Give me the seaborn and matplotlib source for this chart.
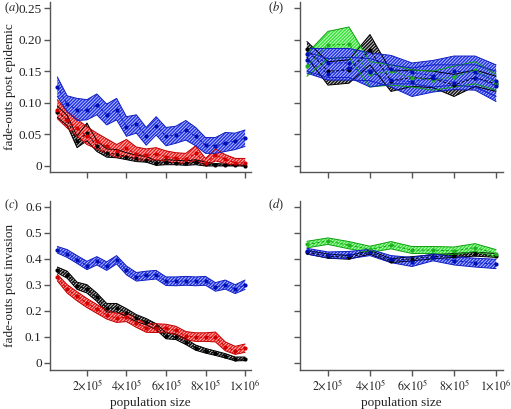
import numpy as np
import pandas as pd
import matplotlib
matplotlib.use("Agg")
import matplotlib.pyplot as plt
import seaborn as sns

# ---------------- data ----------------
pop_ac = [50000, 100000, 150000, 200000, 250000, 300000, 350000, 400000, 450000, 500000,
          550000, 600000, 650000, 700000, 750000, 800000, 850000, 900000, 950000, 1000000]
pop_bd = [100000, 200000, 300000, 400000, 500000, 600000, 700000, 800000, 900000, 1000000]

# panel a
a_blue_mean = [0.125, 0.098, 0.089, 0.088, 0.097, 0.081, 0.089, 0.062, 0.066, 0.048, 0.064, 0.047, 0.049, 0.057, 0.047, 0.033, 0.032, 0.036, 0.040, 0.044]
a_blue_hi = [0.141, 0.111, 0.107, 0.105, 0.114, 0.098, 0.107, 0.078, 0.081, 0.061, 0.078, 0.061, 0.063, 0.072, 0.061, 0.045, 0.045, 0.053, 0.052, 0.057]
a_blue_lo = [0.110, 0.086, 0.072, 0.073, 0.081, 0.065, 0.073, 0.047, 0.052, 0.033, 0.049, 0.032, 0.036, 0.041, 0.032, 0.020, 0.020, 0.023, 0.026, 0.031]
a_red_mean = [0.089, 0.072, 0.060, 0.047, 0.039, 0.031, 0.023, 0.028, 0.019, 0.017, 0.019, 0.015, 0.012, 0.011, 0.020, 0.005, 0.017, 0.011, 0.005, 0.005]
a_red_hi = [0.105, 0.086, 0.074, 0.062, 0.052, 0.043, 0.034, 0.042, 0.030, 0.027, 0.029, 0.024, 0.021, 0.020, 0.032, 0.012, 0.027, 0.018, 0.012, 0.012]
a_red_lo = [0.075, 0.060, 0.047, 0.034, 0.027, 0.020, 0.014, 0.016, 0.010, 0.009, 0.010, 0.007, 0.005, 0.004, 0.009, 0.001, 0.008, 0.004, 0.001, 0.001]
a_black_mean = [0.086, 0.073, 0.039, 0.052, 0.031, 0.020, 0.019, 0.015, 0.012, 0.010, 0.004, 0.006, 0.005, 0.004, 0.006, 0.003, 0.002, 0.001, 0.001, 0.000]
a_black_hi = [0.095, 0.080, 0.047, 0.068, 0.040, 0.027, 0.026, 0.021, 0.017, 0.015, 0.008, 0.010, 0.009, 0.008, 0.010, 0.006, 0.004, 0.003, 0.002, 0.001]
a_black_lo = [0.077, 0.064, 0.029, 0.040, 0.023, 0.014, 0.013, 0.010, 0.007, 0.006, 0.001, 0.002, 0.002, 0.001, 0.002, 0.000, 0.000, 0.000, 0.000, 0.000]

# panel b
b_black_mean = [0.185, 0.150, 0.152, 0.183, 0.135, 0.140, 0.138, 0.128, 0.140, 0.130]
b_black_hi = [0.197, 0.165, 0.168, 0.208, 0.150, 0.152, 0.150, 0.145, 0.152, 0.142]
b_black_lo = [0.172, 0.128, 0.131, 0.160, 0.118, 0.126, 0.124, 0.110, 0.126, 0.118]
b_green_mean = [0.158, 0.191, 0.193, 0.145, 0.150, 0.140, 0.136, 0.141, 0.152, 0.132]
b_green_hi = [0.178, 0.213, 0.220, 0.165, 0.160, 0.152, 0.150, 0.158, 0.165, 0.145]
b_green_lo = [0.142, 0.170, 0.172, 0.125, 0.128, 0.125, 0.120, 0.125, 0.130, 0.120]
b_blue1_mean = [0.177, 0.163, 0.163, 0.150, 0.154, 0.148, 0.143, 0.150, 0.148, 0.135]
b_blue1_hi = [0.186, 0.186, 0.186, 0.179, 0.175, 0.163, 0.167, 0.174, 0.174, 0.160]
b_blue1_lo = [0.150, 0.140, 0.140, 0.125, 0.130, 0.130, 0.125, 0.128, 0.125, 0.110]
b_blue2_mean = [0.168, 0.146, 0.155, 0.148, 0.136, 0.133, 0.140, 0.132, 0.140, 0.127]
b_blue2_hi = [0.180, 0.170, 0.172, 0.170, 0.160, 0.155, 0.160, 0.160, 0.160, 0.150]
b_blue2_lo = [0.147, 0.136, 0.136, 0.135, 0.125, 0.110, 0.117, 0.121, 0.120, 0.102]

# panel c
c_blue_mean = [0.435, 0.420, 0.397, 0.373, 0.393, 0.371, 0.397, 0.355, 0.330, 0.336, 0.339, 0.313, 0.313, 0.315, 0.313, 0.315, 0.291, 0.300, 0.283, 0.300]
c_blue_hi = [0.447, 0.435, 0.412, 0.390, 0.408, 0.388, 0.412, 0.372, 0.347, 0.352, 0.355, 0.330, 0.330, 0.332, 0.330, 0.332, 0.308, 0.318, 0.300, 0.318]
c_blue_lo = [0.422, 0.405, 0.382, 0.358, 0.376, 0.355, 0.380, 0.338, 0.314, 0.318, 0.322, 0.297, 0.296, 0.298, 0.296, 0.298, 0.275, 0.283, 0.266, 0.282]
c_black_mean = [0.358, 0.339, 0.296, 0.283, 0.251, 0.210, 0.210, 0.193, 0.171, 0.158, 0.139, 0.103, 0.100, 0.081, 0.058, 0.046, 0.036, 0.026, 0.013, 0.014]
c_black_hi = [0.368, 0.352, 0.310, 0.300, 0.268, 0.228, 0.228, 0.208, 0.185, 0.170, 0.150, 0.115, 0.110, 0.092, 0.068, 0.055, 0.045, 0.035, 0.022, 0.022]
c_black_lo = [0.346, 0.325, 0.282, 0.268, 0.236, 0.195, 0.195, 0.178, 0.158, 0.146, 0.127, 0.092, 0.089, 0.070, 0.048, 0.037, 0.028, 0.018, 0.007, 0.008]
c_red_mean = [0.328, 0.283, 0.255, 0.229, 0.206, 0.184, 0.171, 0.175, 0.152, 0.133, 0.133, 0.133, 0.124, 0.103, 0.098, 0.098, 0.098, 0.062, 0.046, 0.055]
c_red_hi = [0.340, 0.300, 0.273, 0.247, 0.224, 0.202, 0.190, 0.192, 0.170, 0.150, 0.150, 0.148, 0.140, 0.120, 0.115, 0.115, 0.118, 0.080, 0.063, 0.072]
c_red_lo = [0.315, 0.268, 0.238, 0.212, 0.190, 0.168, 0.155, 0.158, 0.136, 0.117, 0.116, 0.118, 0.108, 0.088, 0.082, 0.082, 0.080, 0.046, 0.032, 0.040]

# panel d
d_black_mean = [0.425, 0.410, 0.405, 0.425, 0.392, 0.400, 0.408, 0.412, 0.418, 0.412]
d_black_hi = [0.432, 0.418, 0.412, 0.432, 0.400, 0.408, 0.415, 0.420, 0.425, 0.420]
d_black_lo = [0.418, 0.402, 0.398, 0.418, 0.385, 0.392, 0.400, 0.405, 0.410, 0.405]
d_green_mean = [0.455, 0.468, 0.452, 0.436, 0.452, 0.433, 0.433, 0.430, 0.443, 0.420]
d_green_hi = [0.467, 0.480, 0.466, 0.448, 0.466, 0.447, 0.447, 0.445, 0.458, 0.435]
d_green_lo = [0.442, 0.455, 0.438, 0.424, 0.438, 0.420, 0.420, 0.416, 0.428, 0.405]
d_blue_mean = [0.430, 0.415, 0.415, 0.424, 0.398, 0.388, 0.405, 0.392, 0.385, 0.379]
d_blue_hi = [0.440, 0.426, 0.428, 0.436, 0.412, 0.405, 0.418, 0.408, 0.402, 0.398]
d_blue_lo = [0.418, 0.403, 0.400, 0.412, 0.385, 0.370, 0.392, 0.376, 0.368, 0.362]

xtick_vals = [200000, 400000, 600000, 800000, 1000000]
xtick_labels = [r"$2{\times}10^{5}$", r"$4{\times}10^{5}$", r"$6{\times}10^{5}$", r"$8{\times}10^{5}$", r"$1{\times}10^{6}$"]
ytick_top = [0, 0.05, 0.10, 0.15, 0.20, 0.25]
ytick_top_labels = ["0", "0.05", "0.10", "0.15", "0.20", "0.25"]
ytick_bot = [0, 0.1, 0.2, 0.3, 0.4, 0.5, 0.6]
ytick_bot_labels = ["0", "0.1", "0.2", "0.3", "0.4", "0.5", "0.6"]

# ---------------- style ----------------
sns.set_style("ticks")
plt.rcParams["font.family"] = ["Liberation Serif", "DejaVu Serif"]
plt.rcParams["mathtext.fontset"] = "stix"
plt.rcParams["hatch.linewidth"] = 0.6

STY = {
    "blue": dict(face="#2233e6", hatch="#c8ceff", line="#1020c0", dot="#0010b0"),
    "red": dict(face="#f01c1c", hatch="#ffd0d0", line="#c00000", dot="#d00000"),
    "black": dict(face="#111111", hatch="#e0e0e0", line="#000000", dot="#000000"),
    "green": dict(face="#38e038", hatch="#d0ffd0", line="#10a010", dot="#20b020"),
}

W, H = 511, 409
fig = plt.figure(figsize=(W / 100, H / 100), dpi=100)


def make_ax(l, r, t, b):
    return fig.add_axes([l / W, 1 - b / H, (r - l) / W, (b - t) / H])


ax_a = make_ax(50, 251, 2, 172)
ax_b = make_ax(300, 503, 2, 172)
ax_c = make_ax(50, 251, 201, 370)
ax_d = make_ax(300, 503, 201, 370)


def band(ax, x, lo, hi, mean, key):
    s = STY[key]
    ax.fill_between(x, lo, hi, facecolor=s["face"], edgecolor=s["hatch"],
                    hatch="//////////", linewidth=0, zorder=2)
    ax.plot(x, lo, color=s["line"], lw=0.7, zorder=3)
    ax.plot(x, hi, color=s["line"], lw=0.7, zorder=3)
    sns.lineplot(x=x, y=mean, ax=ax, color=s["line"], lw=0.7,
                 linestyle=(0, (3, 2)), zorder=4)
    sns.scatterplot(x=x, y=mean, ax=ax, color=s["dot"], s=9,
                    linewidth=0, zorder=5)


band(ax_a, pop_ac, a_black_lo, a_black_hi, a_black_mean, "black")
band(ax_a, pop_ac, a_red_lo, a_red_hi, a_red_mean, "red")
band(ax_a, pop_ac, a_blue_lo, a_blue_hi, a_blue_mean, "blue")

band(ax_b, pop_bd, b_black_lo, b_black_hi, b_black_mean, "black")
band(ax_b, pop_bd, b_green_lo, b_green_hi, b_green_mean, "green")
band(ax_b, pop_bd, b_blue1_lo, b_blue1_hi, b_blue1_mean, "blue")
band(ax_b, pop_bd, b_blue2_lo, b_blue2_hi, b_blue2_mean, "blue")

band(ax_c, pop_ac, c_black_lo, c_black_hi, c_black_mean, "black")
band(ax_c, pop_ac, c_red_lo, c_red_hi, c_red_mean, "red")
band(ax_c, pop_ac, c_blue_lo, c_blue_hi, c_blue_mean, "blue")

band(ax_d, pop_bd, d_black_lo, d_black_hi, d_black_mean, "black")
band(ax_d, pop_bd, d_green_lo, d_green_hi, d_green_mean, "green")
band(ax_d, pop_bd, d_blue_lo, d_blue_hi, d_blue_mean, "blue")

ax_a.set_xlim(13000, 1030000)
ax_c.set_xlim(13000, 1030000)
ax_b.set_xlim(67000, 1033000)
ax_d.set_xlim(67000, 1033000)
for ax in (ax_a, ax_b):
    ax.set_ylim(-0.0095, 0.2595)
    ax.set_yticks(ytick_top)
for ax in (ax_c, ax_d):
    ax.set_ylim(-0.028, 0.622)
    ax.set_yticks(ytick_bot)

for ax in (ax_a, ax_b, ax_c, ax_d):
    ax.set_xticks(xtick_vals)
    ax.set_xlabel("")
    ax.set_ylabel("")
    sns.despine(ax=ax)
    for sp in ("left", "bottom"):
        ax.spines[sp].set_color("#555555")
        ax.spines[sp].set_linewidth(1.0)
    ax.tick_params(direction="out", length=4, width=1.0, color="#555555",
                   labelsize=9.5, labelcolor="#222222", pad=2)
    ax.tick_params(axis="x", labelsize=8.5)
    ax.set_facecolor("none")

ax_a.set_yticklabels(ytick_top_labels)
ax_c.set_yticklabels(ytick_bot_labels)
ax_b.set_yticklabels([])
ax_d.set_yticklabels([])
ax_a.set_xticklabels([])
ax_b.set_xticklabels([])
ax_c.set_xticklabels(xtick_labels)
ax_d.set_xticklabels(xtick_labels)

ax_c.set_xlabel("population size", fontsize=9.5, color="#222222", labelpad=3)
ax_d.set_xlabel("population size", fontsize=9.5, color="#222222", labelpad=3)

fig.text(10 / W, 1 - 87 / H, "fade-outs post epidemic", rotation=90,
         ha="center", va="center", fontsize=9.5, color="#222222")
fig.text(10 / W, 1 - 285 / H, "fade-outs post invasion", rotation=90,
         ha="center", va="center", fontsize=9.5, color="#222222")

for xp, yp, lab in [(4, 8, "a"), (268, 8, "b"), (4, 205, "c"), (268, 205, "d")]:
    fig.text(xp / W, 1 - yp / H, "($%s$)" % lab, ha="left", va="center",
             fontsize=9, color="#222222")

fig.savefig("out.png", dpi=100)
